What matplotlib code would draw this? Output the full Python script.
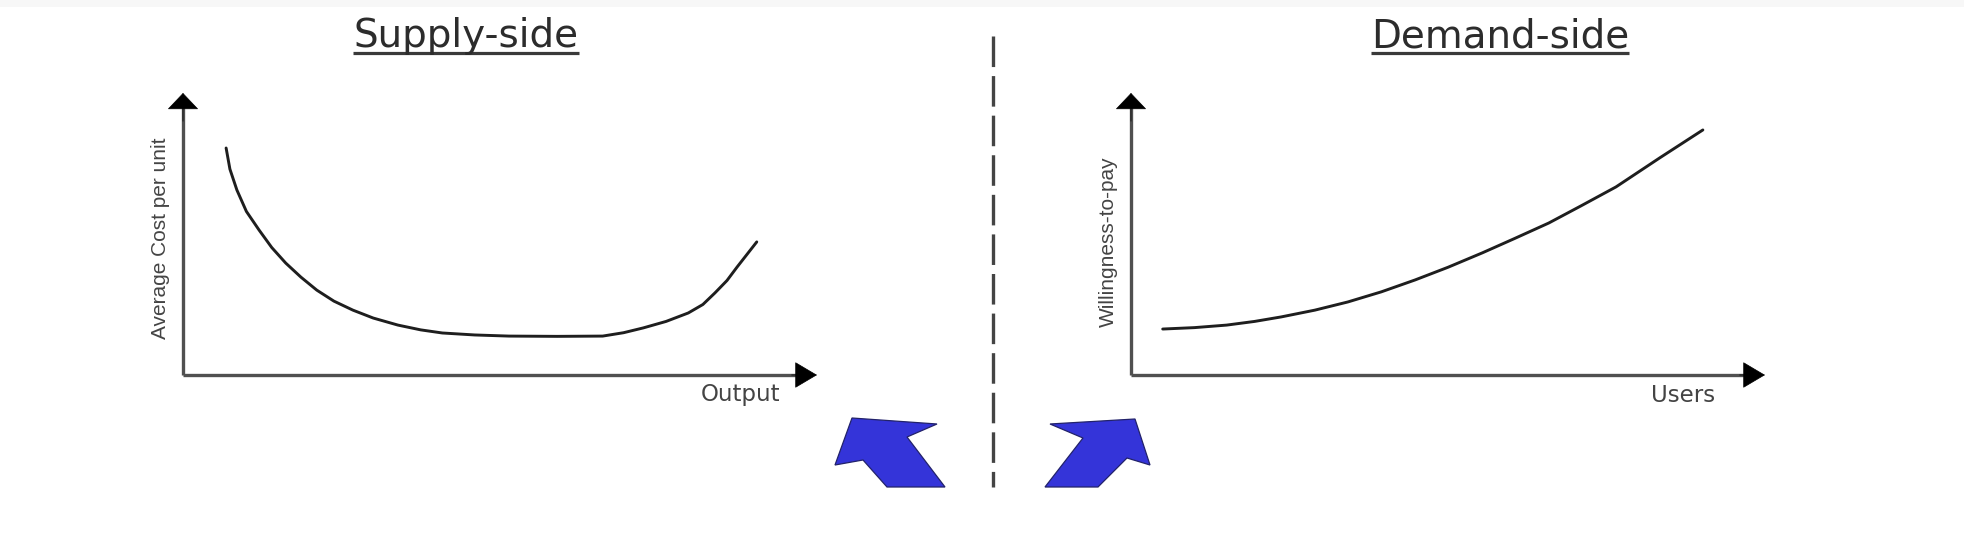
import matplotlib
matplotlib.use('Agg')
import matplotlib.pyplot as plt
from matplotlib.patches import Polygon

plt.rcParams['lines.scale_dashes'] = False

# --- data: curve points (axis units 0..10) ---
supply_x = [0.68, 0.74, 0.85, 1.00, 1.20, 1.40, 1.62, 1.86, 2.11, 2.38, 2.68, 3.00,
            3.39, 3.75, 4.09, 4.60, 5.14, 5.90, 6.62, 6.95, 7.26, 7.62, 7.97, 8.20,
            8.39, 8.58, 8.74, 9.05]
supply_y = [8.05, 7.30, 6.56, 5.80, 5.14, 4.52, 3.97, 3.47, 3.01, 2.62, 2.30, 2.02,
            1.77, 1.60, 1.49, 1.42, 1.38, 1.37, 1.38, 1.50, 1.67, 1.90, 2.20, 2.50,
            2.91, 3.35, 3.83, 4.72]

demand_x = [0.50, 1.00, 1.51, 1.95, 2.37, 2.90, 3.42, 3.95, 4.48, 5.00, 5.54, 6.05,
            6.59, 7.10, 7.65, 8.34, 9.02]
demand_y = [1.63, 1.68, 1.77, 1.90, 2.06, 2.30, 2.59, 2.95, 3.37, 3.82, 4.33, 4.84,
            5.39, 6.00, 6.67, 7.70, 8.69]

titles = ['Supply-side', 'Demand-side']
x_labels = ['Output', 'Users']
y_labels = ['Average Cost per unit', 'Willingness-to-pay']

W, H = 1964, 534
fig = plt.figure(figsize=(W / 100, H / 100), dpi=100)
fig.patch.set_facecolor('white')

# overlay in pixel coords for the decorations
bg = fig.add_axes([0, 0, 1, 1], zorder=0)
bg.set_xlim(0, W)
bg.set_ylim(H, 0)
bg.axis('off')

bg.axhspan(0, 7, color='#f7f7f7', lw=0)

text_col = '#2c2c2c'
axis_col = '#505050'

# dashed divider
bg.plot([993, 993], [36, 487], color='#444444', lw=2.4,
        linestyle=(0, (22, 6.5)), solid_capstyle='butt')

# blue arrows (cut off at the bottom edge of the slide)
blue = '#3434d9'
left_arrow = [(852, 418), (937, 424), (907, 437), (945, 487), (887, 487),
              (863, 460), (835, 465)]
right_arrow = [(1135, 419), (1050, 424), (1083, 438), (1045, 487), (1098, 487),
               (1127, 458), (1150, 465)]
for pts in (left_arrow, right_arrow):
    bg.add_patch(Polygon(pts, closed=True, facecolor=blue, edgecolor='#22226a',
                         lw=0.9, joinstyle='miter'))

# two diagrams
panels = [
    dict(left=183, title_x=466, ylab_x=161, ylab_y=238, xlab_x=741,
         x=supply_x, y=supply_y),
    dict(left=1131, title_x=1500, ylab_x=1108, ylab_y=242, xlab_x=1683,
         x=demand_x, y=demand_y),
]
ax_top, ax_bottom, ax_w = 93, 375, 634

renderer = fig.canvas.get_renderer()
inv = bg.transData.inverted()

for i, p in enumerate(panels):
    ax = fig.add_axes([p['left'] / W, (H - ax_bottom) / H, ax_w / W,
                       (ax_bottom - ax_top) / H], zorder=2)
    ax.set_facecolor('none')
    ax.set_xlim(0, 10)
    ax.set_ylim(0, 10)
    for s in ax.spines.values():
        s.set_visible(False)
    ax.set_xticks([])
    ax.set_yticks([])

    # axis lines + black heads
    ax.plot([0, 0.975], [0, 0], transform=ax.transAxes, color=axis_col, lw=2.4,
            clip_on=False, solid_capstyle='butt')
    ax.plot([0, 0], [0, 0.95], transform=ax.transAxes, color=axis_col, lw=2.4,
            clip_on=False, solid_capstyle='butt')
    ax.annotate('', xy=(1, 0), xytext=(0.96, 0), xycoords='axes fraction',
                arrowprops=dict(arrowstyle='-|>,head_length=1.35,head_width=0.8',
                                mutation_scale=11, color='black', lw=0.5,
                                shrinkA=0, shrinkB=0), annotation_clip=False)
    ax.annotate('', xy=(0, 1), xytext=(0, 0.9), xycoords='axes fraction',
                arrowprops=dict(arrowstyle='-|>,head_length=1.0,head_width=0.95',
                                mutation_scale=11, color='black', lw=0.5,
                                shrinkA=0, shrinkB=0), annotation_clip=False)

    ax.plot(p['x'], p['y'], color='#1e1e1e', lw=2.1,
            solid_joinstyle='round', solid_capstyle='round')

    # title with underline
    t = bg.text(p['title_x'], 47, titles[i], ha='center', va='baseline',
                fontsize=28, color=text_col, family='DejaVu Sans')
    bb = t.get_window_extent(renderer)
    x0, _ = inv.transform((bb.x0, bb.y0))
    x1, _ = inv.transform((bb.x1, bb.y0))
    bg.plot([x0, x1], [53, 53], color='#3a3a3a', lw=2.3, solid_capstyle='butt')

    bg.text(p['ylab_x'], p['ylab_y'], y_labels[i], rotation=90, ha='center',
            va='center', fontsize=15, color='#444444', family='Liberation Sans')
    bg.text(p['xlab_x'], 395, x_labels[i], ha='center', va='center',
            fontsize=16.5, color='#444444', family='DejaVu Sans')

fig.savefig('out.png', dpi=100, facecolor='white')
